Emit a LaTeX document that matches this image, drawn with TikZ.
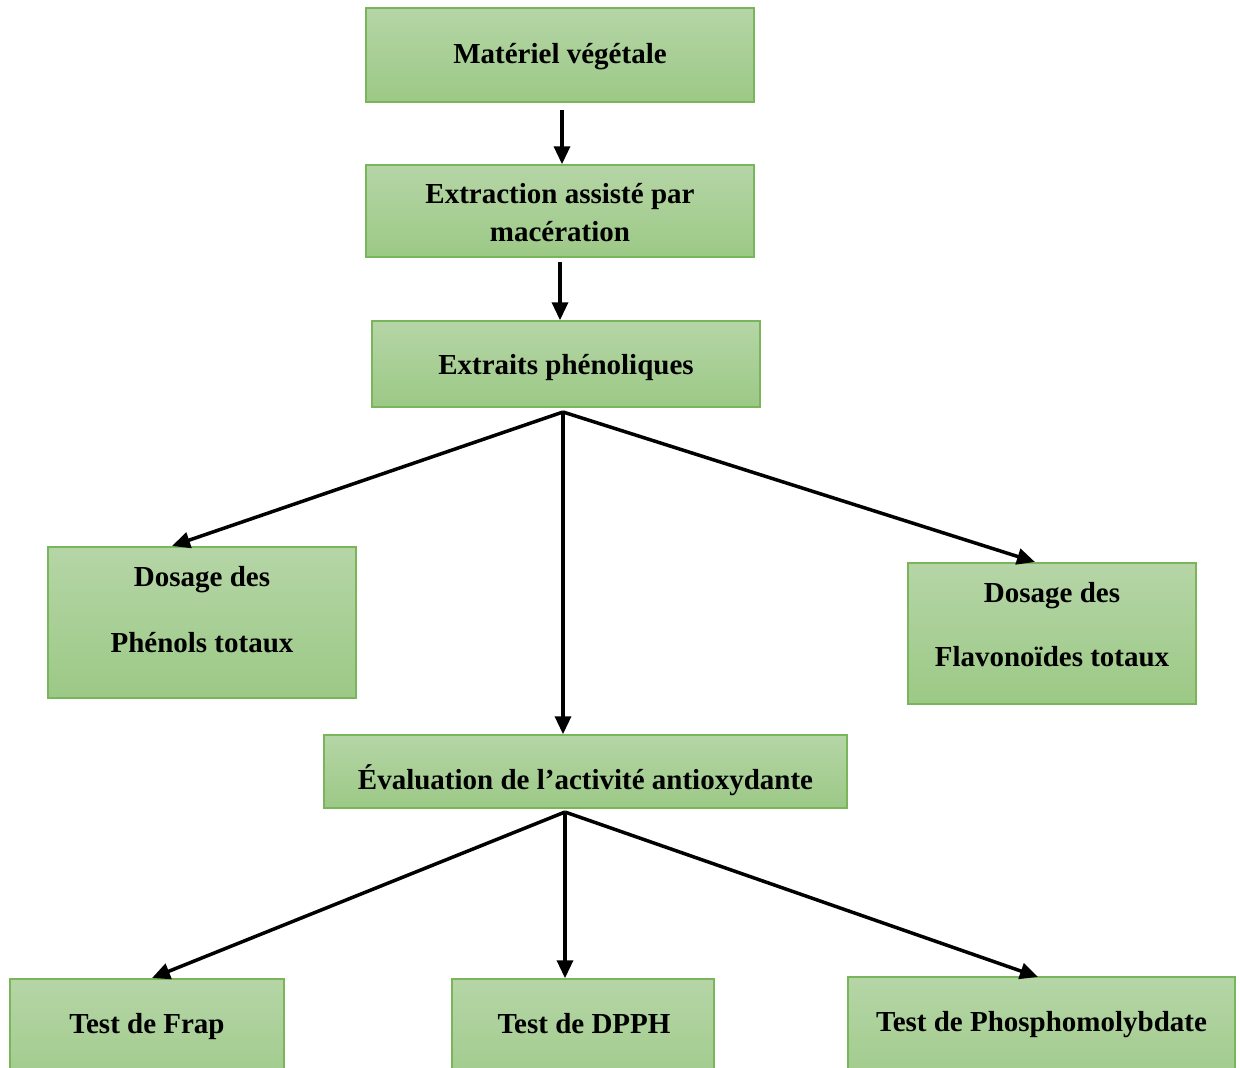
\documentclass[tikz,border=0pt]{standalone}
\usepackage{fontspec}
\setmainfont{Liberation Serif}
\usetikzlibrary{arrows.meta}
\definecolor{gtop}{HTML}{B5D5A6}
\definecolor{gbot}{HTML}{9CC986}
\definecolor{gbord}{HTML}{7AB55C}
\begin{document}
\begin{tikzpicture}[x=1pt,y=-1pt,
  box/.style={draw=gbord,line width=1.5pt,top color=gtop,bottom color=gbot,inner sep=0pt,rectangle},
  lbl/.style={font=\fontsize{29}{36}\selectfont\bfseries,inner sep=0pt,anchor=base},
  arr/.style={line width=3.5pt,-{Triangle[length=18pt,width=16pt]}}]
\useasboundingbox (0,0) rectangle (1240,1068);
\clip (0,0) rectangle (1240,1068);
% boxes
\node[box,minimum width=388pt,minimum height=94pt] (b1) at (560,55) {};
\node[box,minimum width=388pt,minimum height=92pt] (b2) at (560,211) {};
\node[box,minimum width=388pt,minimum height=86pt] (b3) at (566,364) {};
\node[box,minimum width=308pt,minimum height=151pt] (b4) at (202,622.5) {};
\node[box,minimum width=288pt,minimum height=141pt] (b5) at (1052,633.5) {};
\node[box,minimum width=523pt,minimum height=73pt] (b6) at (585.5,771.5) {};
\node[box,minimum width=274pt,minimum height=130pt] (b7) at (147,1044) {};
\node[box,minimum width=262pt,minimum height=130pt] (b8) at (583,1044) {};
\node[box,minimum width=387pt,minimum height=130pt] (b9) at (1041.5,1042) {};
% labels
\node[lbl] (l1) at (560,63) {Matériel végétale};
\node[lbl] (l2a) at (560,203) {Extraction assisté par};
\node[lbl] (l2b) at (560,241) {macération};
\node[lbl] (l3) at (566,374) {Extraits phénoliques};
\node[lbl] (l4a) at (202,586) {Dosage des};
\node[lbl] (l4b) at (202,652) {Phénols totaux};
\node[lbl] (l5a) at (1052,602) {Dosage des};
\node[lbl] (l5b) at (1052,666) {Flavonoïdes totaux};
\node[lbl] (l6) at (585.5,789) {Évaluation de l’activité antioxydante};
\node[lbl] (l7) at (147,1033) {Test de Frap};
\node[lbl] (l8) at (584,1033) {Test de DPPH};
\node[lbl] (l9) at (1041.5,1031) {Test de Phosphomolybdate};
% connectors
\coordinate (p1) at (562,110);
\coordinate (p2) at (560,262);
\coordinate (c1) at (563,412);
\coordinate (c2) at (565,812);
\coordinate (t4) at (172,546);
\coordinate (t5) at (1035,562);
\coordinate (t7) at (152,978);
\coordinate (t9) at (1038,977);
\draw[arr] (p1) -- (p1 |- b2.north);
\draw[arr] (p2) -- (p2 |- b3.north);
\draw[arr] (c1) -- (t4);
\draw[arr] (c1) -- (c1 |- b6.north);
\draw[arr] (c1) -- (t5);
\draw[arr] (c2) -- (t7);
\draw[arr] (c2) -- (c2 |- b8.north);
\draw[arr] (c2) -- (t9);
\end{tikzpicture}
\end{document}
